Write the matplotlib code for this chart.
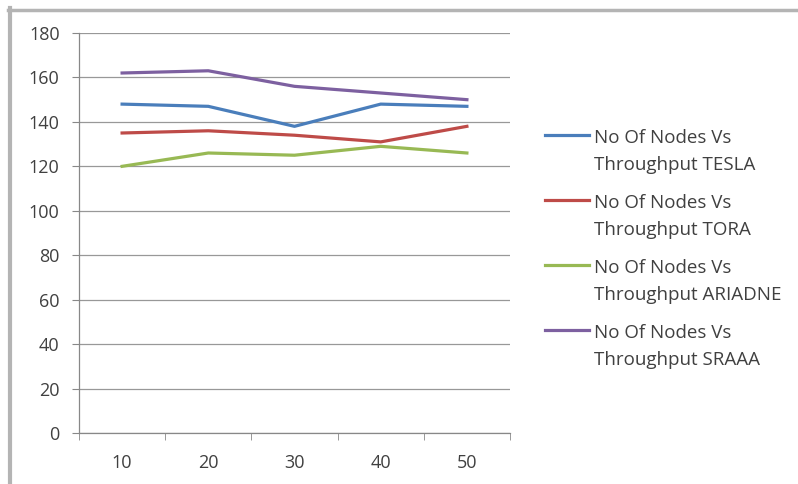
import matplotlib.pyplot as plt
from matplotlib.lines import Line2D

nodes = ['10', '20', '30', '40', '50']
tesla = [148, 147, 138, 148, 147]
tora = [135, 136, 134, 131, 138]
ariadne = [120, 126, 125, 129, 126]
sraaa = [162, 163, 156, 153, 150]

labels = ['No Of Nodes Vs\nThroughput TESLA', 'No Of Nodes Vs\nThroughput TORA',
          'No Of Nodes Vs\nThroughput ARIADNE', 'No Of Nodes Vs\nThroughput SRAAA']
colors = ['#4A7EBB', '#BE4B48', '#98B954', '#7D60A0']

plt.rcParams['font.family'] = ['Open Sans', 'DejaVu Sans']
txt_color = '#404040'

fig = plt.figure(figsize=(7.98, 4.84), dpi=100)
W, H = 798, 484
ax = fig.add_axes([79 / W, 1 - 433 / H, (510 - 79) / W, (433 - 33) / H])

x = list(range(len(nodes)))
for ys, c in zip([tesla, tora, ariadne, sraaa], colors):
    ax.plot(x, ys, color=c, lw=2.3)

ax.set_xlim(-0.5, len(nodes) - 0.5)
ax.set_ylim(0, 180)
ax.set_yticks(range(0, 181, 20))
ax.set_xticks(x)
ax.set_xticklabels(nodes)
ax.set_xticks([i - 0.5 for i in range(len(nodes) + 1)], minor=True)
ax.tick_params(axis='x', which='major', length=0, pad=15, labelsize=13, labelcolor=txt_color)
ax.tick_params(axis='x', which='minor', length=5, color='#888888', direction='out')
ax.tick_params(axis='y', length=5, color='#888888', labelsize=13, labelcolor=txt_color, pad=9)
ax.grid(axis='y', color='#989898', lw=0.9)
ax.set_axisbelow(True)
for s in ['top', 'right']:
    ax.spines[s].set_visible(False)
for s in ['left', 'bottom']:
    ax.spines[s].set_color('#888888')
    ax.spines[s].set_linewidth(0.9)

# legend drawn by hand: handle beside the first line of each two-line label
for i, (c, lab) in enumerate(zip(colors, labels)):
    hy = 1 - (135 + 65 * i) / H
    fig.add_artist(Line2D([545 / W, 589 / W], [hy, hy], color=c, lw=2.3,
                          transform=fig.transFigure))
    line1, line2 = lab.split('\n')
    fig.text(594 / W, 1 - (143 + 65 * i) / H, line1, fontsize=13.5,
             color=txt_color, va='baseline', ha='left')
    fig.text(594 / W, 1 - (170 + 65 * i) / H, line2, fontsize=13.5,
             color=txt_color, va='baseline', ha='left')

# gray frame (top and left edges visible)
fig.add_artist(Line2D([8 / W, 1], [1 - 9.5 / H, 1 - 9.5 / H], color='#b4b4b4', lw=2.5,
                      transform=fig.transFigure))
fig.add_artist(Line2D([10 / W, 10 / W], [0, 1 - 8 / H], color='#b4b4b4', lw=3,
                      transform=fig.transFigure))

fig.savefig('out.png', dpi=100)
